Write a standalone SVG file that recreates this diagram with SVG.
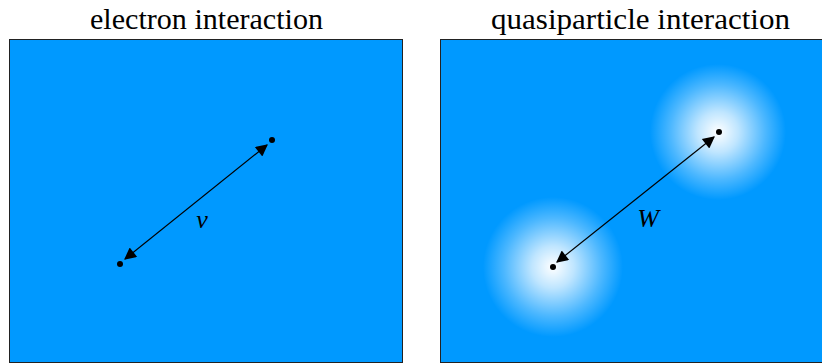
<svg xmlns="http://www.w3.org/2000/svg" width="822" height="363" viewBox="0 0 822 363">
<style>
.panel{fill:#0099ff;stroke:#222;stroke-width:1}
.title{font-family:"Liberation Serif",serif;font-size:29px;fill:#000;text-anchor:middle}
.lbl{font-family:"Liberation Serif",serif;font-style:italic;font-size:26px;fill:#000;text-anchor:middle}
.conn{stroke:#000;stroke-width:1.2;fill:none;marker-start:url(#ah);marker-end:url(#ah)}
</style>
<defs>
<marker id="ah" viewBox="0 0 10 10" refX="9" refY="5" markerWidth="18" markerHeight="12" markerUnits="userSpaceOnUse" orient="auto-start-reverse">
<path d="M0,0 L10,5 L0,10 z" fill="#000"/>
</marker>
<radialGradient id="glow">
<stop offset="0" stop-color="#fff" stop-opacity="1"/>
<stop offset="0.3" stop-color="#fff" stop-opacity="0.75"/>
<stop offset="0.7" stop-color="#fff" stop-opacity="0.3"/>
<stop offset="1" stop-color="#fff" stop-opacity="0"/>
</radialGradient>
</defs>
<g id="left-panel">
<rect class="panel" x="9.5" y="39.5" width="393" height="323"/>
<text class="title" x="206.5" y="29" textLength="233" lengthAdjust="spacingAndGlyphs">electron interaction</text>
</g>
<g id="right-panel">
<rect class="panel" x="440.5" y="39.5" width="383" height="323"/>
<text class="title" x="640.5" y="29" textLength="299" lengthAdjust="spacingAndGlyphs">quasiparticle interaction</text>
</g>
<g id="glow-a"><circle cx="553" cy="267" r="70" fill="url(#glow)"/></g>
<g id="glow-b"><circle cx="718" cy="132" r="68" fill="url(#glow)"/></g>
<g id="e1"><circle cx="120" cy="264" r="3" fill="#000"/></g>
<g id="e2"><circle cx="272" cy="140" r="3" fill="#000"/></g>
<g id="q1"><circle cx="553" cy="267" r="3" fill="#000"/></g>
<g id="q2"><circle cx="719" cy="132" r="3" fill="#000"/></g>
<g id="connectors">
<line class="conn" x1="125" y1="259" x2="267" y2="145"/>
<line class="conn" x1="557" y1="262" x2="714" y2="137"/>
<text class="lbl" x="202" y="228">v</text>
<text class="lbl" x="648" y="227">W</text>
</g>
</svg>
